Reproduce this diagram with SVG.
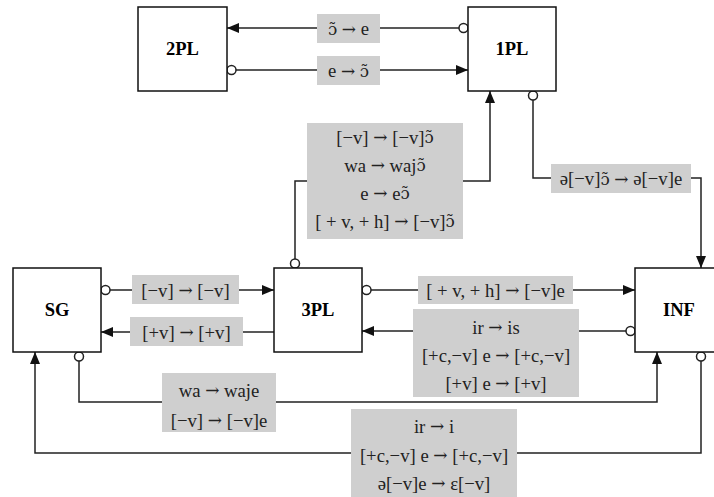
<svg xmlns="http://www.w3.org/2000/svg" width="714" height="497" viewBox="0 0 714 497">
<style>
.node rect{fill:#fff;stroke:#111;stroke-width:1.5}
.node text{font-family:"Liberation Serif","Times New Roman",serif;font-weight:bold;font-size:18.5px;fill:#000;text-anchor:middle;dominant-baseline:central}
.edge{fill:none;stroke:#222;stroke-width:1.5}
.lbl{fill:#cfcfcf}
.lt{font-family:"Liberation Serif","Times New Roman",serif;font-size:18.7px;fill:#222;text-anchor:middle;dominant-baseline:central}
.a{font-family:"DejaVu Serif",serif;font-size:17px}
.n{font-family:"DejaVu Serif",serif;font-size:16.5px}
.dot{fill:#fff;stroke:#222;stroke-width:1.5}
</style>
<defs>
<marker id="arr" markerWidth="12" markerHeight="10" refX="12" refY="5" orient="auto" markerUnits="userSpaceOnUse">
<path d="M0,0 L12,5 L0,10 Z" fill="#111"/>
</marker>
</defs>
<rect width="714" height="497" fill="#fff"/>
<g id="connectors">
<path class="edge" d="M459,28 H227" marker-end="url(#arr)"/>
<circle class="dot" cx="463.5" cy="28" r="4.5"/>
<rect class="lbl" x="317" y="14" width="63" height="29"/>
<text class="lt" x="348.5" y="28.5"><tspan class="n">ɔ̃</tspan> <tspan class="a">→</tspan> e</text>
<path class="edge" d="M236,70 H468" marker-end="url(#arr)"/>
<circle class="dot" cx="231.5" cy="70" r="4.5"/>
<rect class="lbl" x="317" y="56" width="63" height="29"/>
<text class="lt" x="348.5" y="70.5">e <tspan class="a">→</tspan> <tspan class="n">ɔ̃</tspan></text>
<path class="edge" d="M295,259 V181 H490 V91" marker-end="url(#arr)"/>
<circle class="dot" cx="295" cy="263.5" r="4.5"/>
<rect class="lbl" x="307" y="123" width="156" height="116"/>
<text class="lt" x="385" y="137">[−v] <tspan class="a">→</tspan> [−v]<tspan class="n">ɔ̃</tspan></text>
<text class="lt" x="385" y="165">wa <tspan class="a">→</tspan> waj<tspan class="n">ɔ̃</tspan></text>
<text class="lt" x="385" y="193">e <tspan class="a">→</tspan> e<tspan class="n">ɔ̃</tspan></text>
<text class="lt" x="385" y="221">[ + v, + h] <tspan class="a">→</tspan> [−v]<tspan class="n">ɔ̃</tspan></text>
<path class="edge" d="M533,100 V178 H701 V268" marker-end="url(#arr)"/>
<circle class="dot" cx="533" cy="95.5" r="4.5"/>
<rect class="lbl" x="551" y="164" width="140" height="29"/>
<text class="lt" x="621" y="178.5">ə[−v]<tspan class="n">ɔ̃</tspan> <tspan class="a">→</tspan> ə[−v]e</text>
<path class="edge" d="M110,290 H274" marker-end="url(#arr)"/>
<circle class="dot" cx="105.5" cy="290" r="4.5"/>
<rect class="lbl" x="132" y="275" width="107" height="29"/>
<text class="lt" x="185.5" y="290">[−v] <tspan class="a">→</tspan> [−v]</text>
<path class="edge" d="M353,332 H101" marker-end="url(#arr)"/>
<circle class="dot" cx="357.5" cy="332" r="4.5"/>
<rect class="lbl" x="130" y="317" width="113" height="29"/>
<text class="lt" x="186.5" y="332">[+v]  <tspan class="a">→</tspan> [+v]</text>
<path class="edge" d="M371,290 H635" marker-end="url(#arr)"/>
<circle class="dot" cx="366.5" cy="290" r="4.5"/>
<rect class="lbl" x="418" y="276" width="155" height="28"/>
<text class="lt" x="495.5" y="290">[ + v, + h] <tspan class="a">→</tspan> [−v]e</text>
<path class="edge" d="M626,331 H362" marker-end="url(#arr)"/>
<circle class="dot" cx="630.5" cy="331" r="4.5"/>
<rect class="lbl" x="413" y="309" width="166" height="88"/>
<text class="lt" x="496" y="327">ir <tspan class="a">→</tspan> is</text>
<text class="lt" x="496" y="355">[+c,−v] e <tspan class="a">→</tspan> [+c,−v]</text>
<text class="lt" x="496" y="383">[+v] e <tspan class="a">→</tspan> [+v]</text>
<path class="edge" d="M79,361 V402 H657 V352" marker-end="url(#arr)"/>
<circle class="dot" cx="79" cy="356.5" r="4.5"/>
<rect class="lbl" x="162" y="373" width="114" height="59"/>
<text class="lt" x="219" y="390">wa <tspan class="a">→</tspan> waje</text>
<text class="lt" x="219" y="420">[−v] <tspan class="a">→</tspan> [−v]e</text>
<path class="edge" d="M701,361 V453 H35 V352" marker-end="url(#arr)"/>
<circle class="dot" cx="701" cy="356.5" r="4.5"/>
<rect class="lbl" x="351" y="409" width="166" height="92"/>
<text class="lt" x="434" y="426">ir <tspan class="a">→</tspan> i</text>
<text class="lt" x="434" y="455">[+c,−v] e <tspan class="a">→</tspan> [+c,−v]</text>
<text class="lt" x="434" y="483">ə[−v]e <tspan class="a">→</tspan> ɛ[−v]</text>
</g>
<g id="node-2PL" class="node"><rect x="138" y="7" width="89" height="84"/><text x="182.5" y="49">2PL</text></g>
<g id="node-1PL" class="node"><rect x="468" y="7" width="88" height="84"/><text x="512" y="49">1PL</text></g>
<g id="node-SG" class="node"><rect x="13" y="268" width="88" height="84"/><text x="57" y="310">SG</text></g>
<g id="node-3PL" class="node"><rect x="274" y="268" width="88" height="84"/><text x="318" y="310">3PL</text></g>
<g id="node-INF" class="node"><rect x="635" y="268" width="88" height="84"/><text x="679" y="310">INF</text></g>
</svg>
